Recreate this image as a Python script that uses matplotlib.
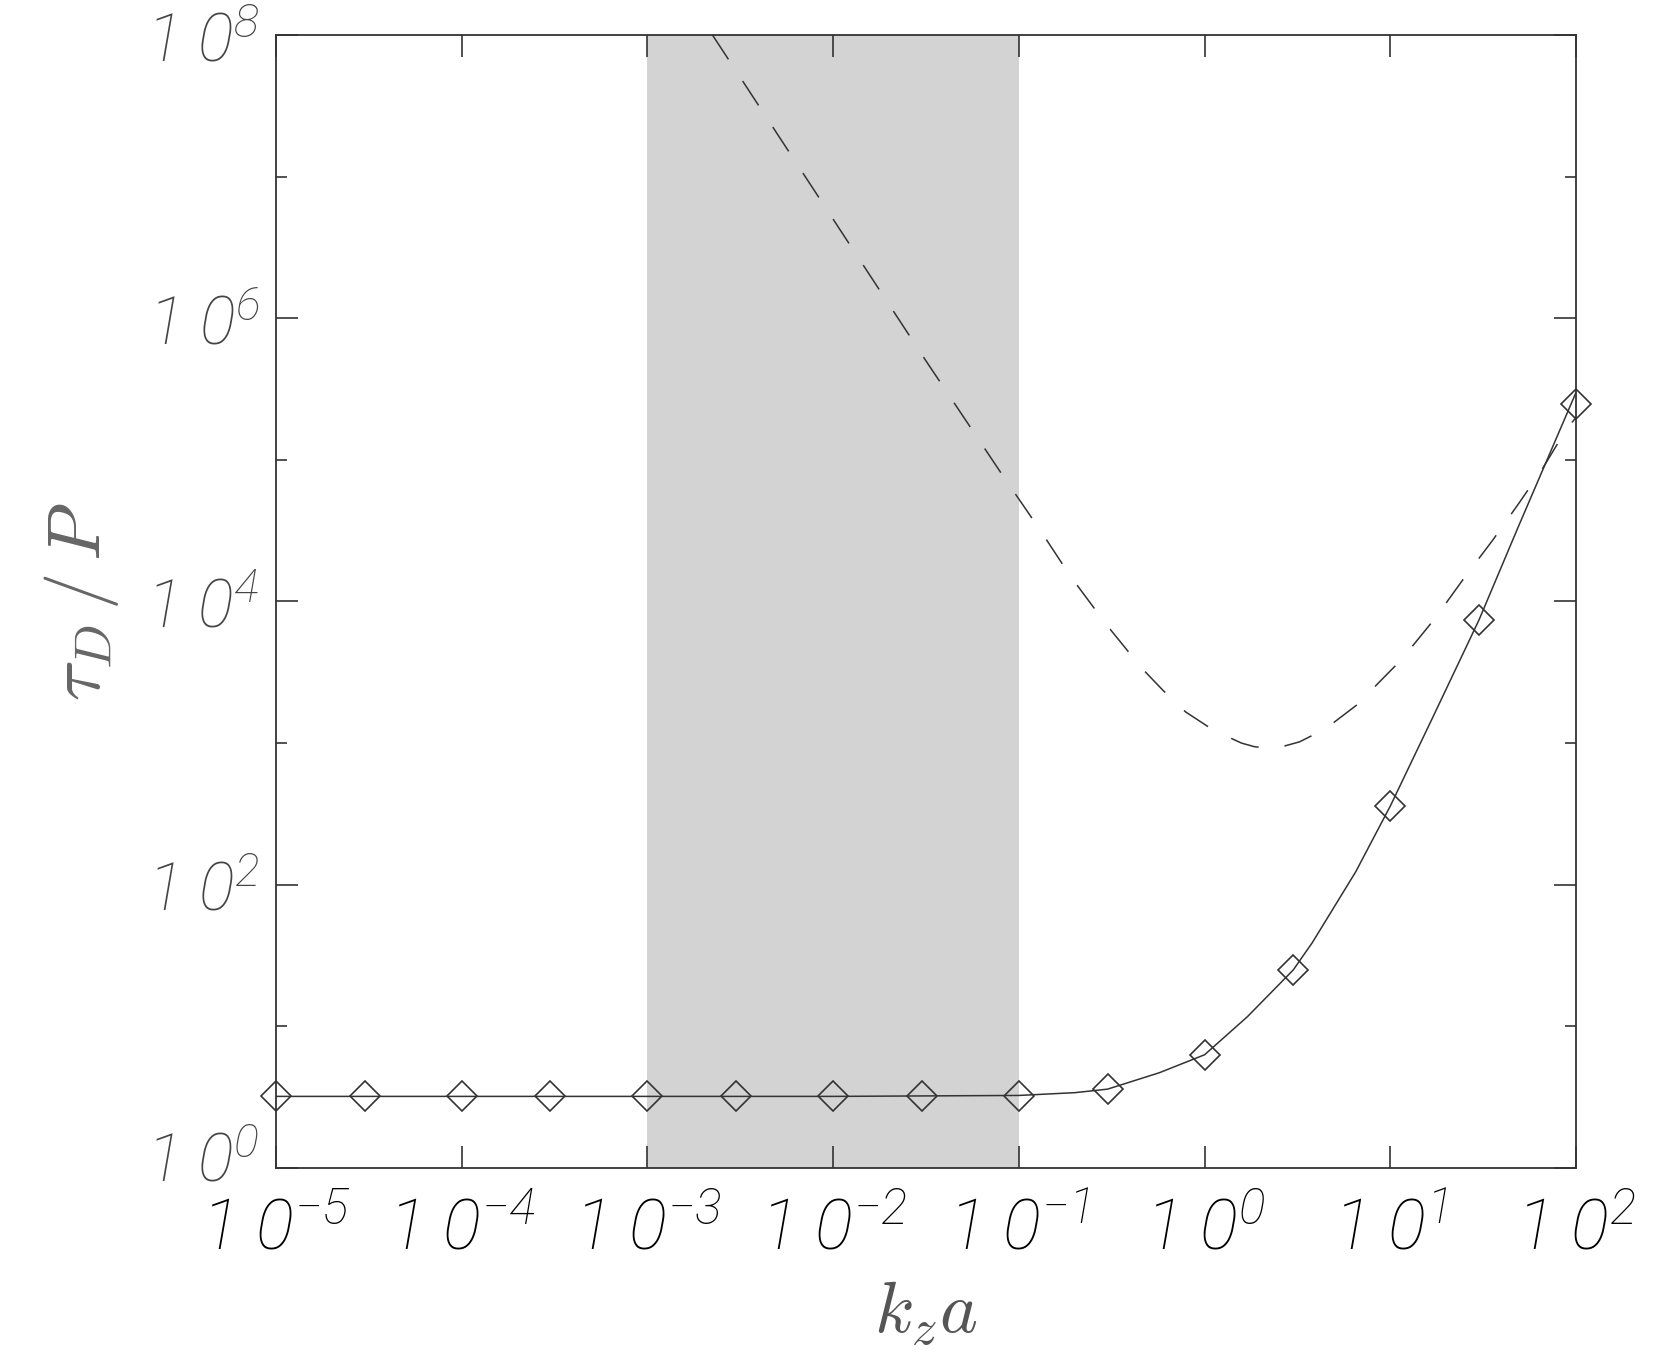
import numpy as np
import matplotlib
matplotlib.use('Agg')
import matplotlib.pyplot as plt
import matplotlib.transforms as mtransforms

# thin sans italic for the tick labels
plt.rcParams['mathtext.fontset'] = 'custom'
plt.rcParams['mathtext.rm'] = 'Roboto:italic:light'
plt.rcParams['mathtext.it'] = 'Roboto:italic:light'

# solid curve (with diamond markers)
marker_k = [1e-5, 3e-5, 1e-4, 3e-4, 1e-3, 3e-3, 1e-2, 3e-2, 1e-1, 3e-1, 1, 3, 10, 30, 100]
marker_tau = [3.2, 3.2, 3.2, 3.2, 3.2, 3.2, 3.2, 3.2, 3.22, 3.63, 6.3, 25, 360, 7400, 2.5e5]

solid_k = [1e-5, 1e-4, 1e-3, 1e-2, 1e-1, 0.2, 0.3, 0.57, 1, 1.7, 3, 3.8, 6.5, 10, 17, 30, 49, 100]
solid_tau = [3.2, 3.2, 3.2, 3.2, 3.25, 3.4, 3.6, 4.7, 6.3, 11.7, 25, 39, 123, 360, 1540, 7400, 3.4e4, 3.0e5]

# dashed curve
dash_k = [2.24e-3, 1e-2, 3.16e-2, 0.085, 0.126, 0.19, 0.295, 0.457, 0.60, 0.79, 1.12, 1.58,
          1.86, 2.19, 2.63, 3.24, 4.47, 6.6, 11.5, 17.4, 25.1, 35.5, 49, 64.6, 87, 100]
dash_tau = [1e8, 5e6, 5e5, 7.2e4, 3.4e4, 1.5e4, 6.9e3, 3.4e3, 2.34e3, 1.66e3, 1.23e3, 1.0e3,
            942, 925, 946, 1.02e3, 1.26e3, 1.86e3, 3.9e3, 7.6e3, 1.48e4, 2.7e4, 4.9e4,
            8.3e4, 1.58e5, 2.0e5]

shade_lo, shade_hi = 1e-3, 1e-1

x_ticks = [1e-5, 1e-4, 1e-3, 1e-2, 1e-1, 1, 10, 100]
x_labels = [r'$1\;0^{-5}$', r'$1\;0^{-4}$', r'$1\;0^{-3}$', r'$1\;0^{-2}$',
            r'$1\;0^{-1}$', r'$1\;0^{0}$', r'$1\;0^{1}$', r'$1\;0^{2}$']
y_ticks = [1, 1e2, 1e4, 1e6, 1e8]
y_labels = [r'$1\;0^{0}$', r'$1\;0^{2}$', r'$1\;0^{4}$', r'$1\;0^{6}$', r'$1\;0^{8}$']
y_minor = [10, 1e3, 1e5, 1e7]

fig = plt.figure(figsize=(16.79, 13.59), dpi=100)
ax = fig.add_axes([0.1644, 0.1406, 0.7743, 0.8336])

ax.axvspan(shade_lo, shade_hi, color='#d3d3d3', lw=0, zorder=0)
ax.plot(solid_k, solid_tau, color='#333333', lw=1.1, zorder=2)
ax.plot(marker_k, marker_tau, ls='none', marker='D', ms=15, mfc='none',
        mec='#333333', mew=1.2, zorder=3, clip_on=False)
ax.plot(dash_k, dash_tau, color='#333333', lw=1.1, dashes=(19, 17), zorder=2)

ax.set_xscale('log')
ax.set_yscale('log')
ax.set_xlim(1e-5, 100)
ax.set_ylim(1, 1e8)

ax.set_xticks(x_ticks)
ax.set_xticklabels(x_labels, fontsize=51, color='#000000', math_fontfamily='custom')
ax.xaxis.set_minor_locator(matplotlib.ticker.NullLocator())
ax.set_yticks(y_ticks)
ax.set_yticklabels(y_labels, fontsize=48, color='#444444', math_fontfamily='custom')
ax.set_yticks(y_minor, minor=True)
ax.yaxis.set_minor_formatter(matplotlib.ticker.NullFormatter())

ax.tick_params(which='major', direction='in', top=True, right=True, length=16, width=1.2,
               color='#333333')
ax.tick_params(axis='x', which='major', pad=20)
ax.tick_params(axis='y', which='major', pad=12)
ax.tick_params(which='minor', direction='in', top=True, right=True, length=8, width=1.2,
               color='#333333')

# first y label sits a little higher in the original
lbl0 = ax.get_yticklabels()[0]
lbl0.set_transform(lbl0.get_transform() + mtransforms.ScaledTranslation(0, 0.12, fig.dpi_scale_trans))

for s in ax.spines.values():
    s.set_linewidth(1.3)
    s.set_color('#333333')

ax.set_xlabel(r'$k_z a$', fontsize=52, color='#555555', math_fontfamily='cm', labelpad=10)
ax.set_ylabel(r'$\tau_D\,/\,P$', fontsize=54, color='#666666', math_fontfamily='cm', labelpad=18)

plt.savefig('out.png', dpi=100)
plt.close()
